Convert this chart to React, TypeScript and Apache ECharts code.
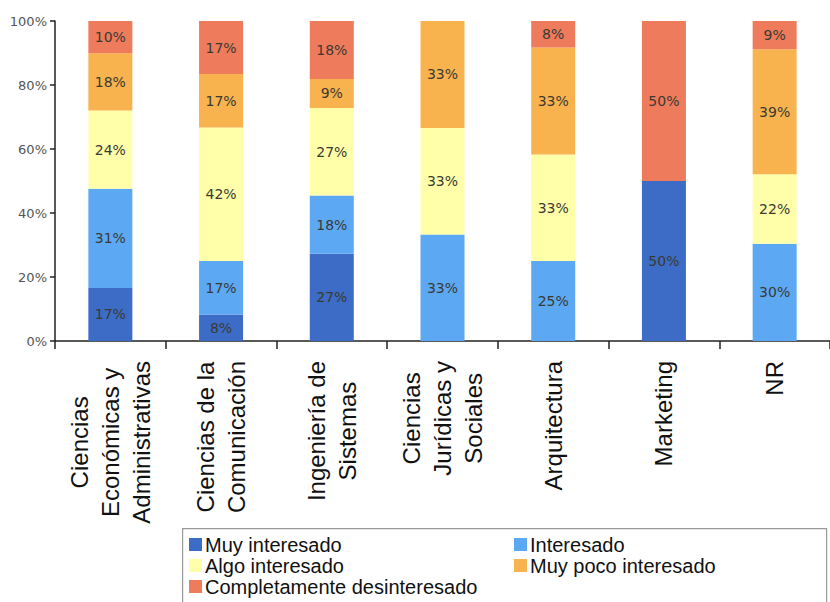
import React, { useEffect, useRef } from 'react';
import * as echarts from 'echarts';

const categories = [
  'Ciencias\nEconómicas y\nAdministrativas',
  'Ciencias de la\nComunicación',
  'Ingeniería de\nSistemas',
  'Ciencias\nJurídicas y\nSociales',
  'Arquitectura',
  'Marketing',
  'NR',
];
const seriesNames = [
  'Muy interesado',
  'Interesado',
  'Algo interesado',
  'Muy poco interesado',
  'Completamente desinteresado',
];
const muyInteresado = [16.6, 8.3, 27.3, 0, 0, 50, 0];
const interesado = [31.0, 16.7, 18.2, 33.3, 25.0, 0, 30.4];
const algoInteresado = [24.4, 41.7, 27.3, 33.3, 33.3, 0, 21.7];
const muyPocoInteresado = [17.9, 16.7, 9.1, 33.4, 33.4, 0, 39.1];
const completamenteDesinteresado = [10.1, 16.6, 18.1, 0, 8.3, 50, 8.8];
const seriesValues = [muyInteresado, interesado, algoInteresado, muyPocoInteresado, completamenteDesinteresado];
const colors = ['#3C6CC5', '#5CA8F2', '#FFFFAA', '#F8B24E', '#EE7B5B'];

export default function App() {
  const ref = useRef<HTMLDivElement>(null);
  useEffect(() => {
    if (!ref.current) return;
    const chart = echarts.init(ref.current, undefined, { renderer: 'svg' });
    const legendText = {
      fontSize: 20,
      lineHeight: 21,
      fontFamily: 'Liberation Sans, Arial, sans-serif',
      color: '#111',
      padding: [0, 0, 0, -2],
    };
    chart.setOption({
      animation: false,
      backgroundColor: '#ffffff',
      grid: { left: 55, top: 21, width: 784, height: 320 },
      xAxis: {
        type: 'category',
        data: categories,
        axisLine: { lineStyle: { color: '#222', width: 1.5 } },
        axisTick: { show: true, length: 8, lineStyle: { color: '#222', width: 1.5 } },
        axisLabel: {
          interval: 0,
          rotate: 90,
          margin: 20,
          formatter: (v: string) => v.split('\n').map((l) => `{c|${l}}`).join('\n'),
          rich: {
            c: {
              align: 'center',
              fontSize: 24,
              lineHeight: 31,
              fontFamily: 'Liberation Sans, Arial, sans-serif',
              color: '#111',
            },
          },
        },
      },
      yAxis: {
        type: 'value',
        min: 0,
        max: 100,
        interval: 20,
        splitLine: { show: false },
        axisLine: { show: true, lineStyle: { color: '#222', width: 1.5 } },
        axisTick: { show: true, length: 5, lineStyle: { color: '#222', width: 1.5 } },
        axisLabel: {
          formatter: '{value}%',
          margin: 8,
          fontSize: 13,
          fontFamily: 'DejaVu Sans, Verdana, sans-serif',
          color: '#555',
        },
      },
      legend: [
        {
          data: [seriesNames[0], seriesNames[2], seriesNames[4]],
          orient: 'vertical',
          left: 189,
          top: 534,
          padding: 0,
          itemGap: 0,
          itemWidth: 13,
          itemHeight: 13,
          icon: 'rect',
          textStyle: legendText,
        },
        {
          data: [seriesNames[1], seriesNames[3]],
          orient: 'vertical',
          left: 514,
          top: 534,
          padding: 0,
          itemGap: 0,
          itemWidth: 13,
          itemHeight: 13,
          icon: 'rect',
          textStyle: legendText,
        },
      ],
      graphic: [
        {
          type: 'rect',
          left: 182,
          top: 528,
          z: -1,
          shape: { width: 644, height: 90 },
          style: { fill: '#fff', stroke: '#999', lineWidth: 1.2 },
        },
      ],
      series: seriesNames.map((name, i) => ({
        name,
        type: 'bar',
        stack: 'total',
        barWidth: 44,
        data: seriesValues[i],
        itemStyle: { color: colors[i] },
        label: {
          show: true,
          position: 'inside',
          formatter: (p: any) => (p.value > 0 ? `${Math.round(p.value)}%` : ''),
          fontSize: 14,
          fontFamily: 'DejaVu Sans, Verdana, sans-serif',
          color: '#3a3a33',
        },
      })),
    });
    return () => chart.dispose();
  }, []);
  return (
    <div
      ref={ref}
      style={{ position: 'absolute', left: 0, top: 0, width: 830, height: 602, background: '#fff' }}
    />
  );
}
